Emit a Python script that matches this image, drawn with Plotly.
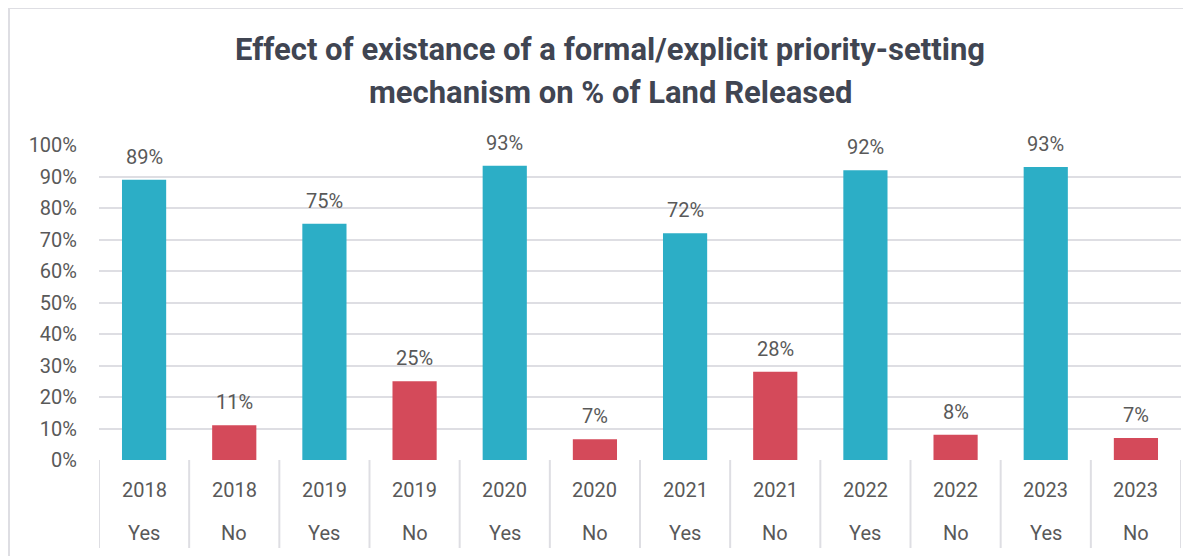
import plotly.graph_objects as go

years = ["2018", "2018", "2019", "2019", "2020", "2020", "2021", "2021", "2022", "2022", "2023", "2023"]
mechanism = ["Yes", "No", "Yes", "No", "Yes", "No", "Yes", "No", "Yes", "No", "Yes", "No"]
land_released = [0.89, 0.11, 0.75, 0.25, 0.934, 0.066, 0.72, 0.28, 0.92, 0.08, 0.93, 0.07]

colors = {"Yes": "#2CAEC6", "No": "#D44A5A"}
grid_col = "#DEDEE3"
text_col = "#595959"
font_fam = "Roboto, Arial, sans-serif"

cats = [y + " " + m for y, m in zip(years, mechanism)]

# plot area in page pixels: x 99..1181, y 145..460  (page has an 8px body offset)
plot_w = 1082
plot_h = 315

fig = go.Figure()
fig.add_trace(
    go.Bar(
        x=cats,
        y=land_released,
        marker_color=[colors[m] for m in mechanism],
        marker_line_width=0,
        hoverinfo="x+y",
    )
)

annotations = []
# data labels
for c, v in zip(cats, land_released):
    annotations.append(dict(
        x=c, y=v, xref="x", yref="y", text=f"{round(v * 100)}%",
        showarrow=False, yanchor="middle", yshift=23,
        font=dict(size=20, color=text_col, family=font_fam),
    ))
# two rows of category labels
for c, y, m in zip(cats, years, mechanism):
    annotations.append(dict(
        x=c, y=0, xref="x", yref="paper", text=y, showarrow=False,
        yanchor="middle", yshift=-30,
        font=dict(size=20, color=text_col, family=font_fam),
    ))
    annotations.append(dict(
        x=c, y=0, xref="x", yref="paper", text=m, showarrow=False,
        yanchor="middle", yshift=-73,
        font=dict(size=20, color=text_col, family=font_fam),
    ))
# title, two lines
title_x = (610 - 99) / plot_w
annotations.append(dict(
    x=title_x, y=1 + 95 / plot_h, xref="paper", yref="paper", showarrow=False,
    text="<b>Effect of existance of a formal/explicit priority-setting</b>",
    xanchor="center", yanchor="middle",
    font=dict(size=31, color="#404552", family=font_fam),
))
annotations.append(dict(
    x=title_x, y=1 + 52 / plot_h, xref="paper", yref="paper", showarrow=False,
    text="<b>mechanism on % of Land Released</b>",
    xanchor="center", yanchor="middle",
    font=dict(size=31, color="#404552", family=font_fam),
))

# category separators below the axis
shapes = []
for i in range(len(cats) + 1):
    shapes.append(dict(
        type="line", xref="x", yref="paper",
        x0=i - 0.5, x1=i - 0.5, y0=0, y1=-88 / plot_h,
        line=dict(color=grid_col, width=2),
    ))
# chart area border (left and top)
shapes.append(dict(type="line", xref="paper", yref="paper",
                   x0=-90 / plot_w, x1=-90 / plot_w, y0=-2, y1=1 + 137 / plot_h,
                   line=dict(color=grid_col, width=2)))
shapes.append(dict(type="line", xref="paper", yref="paper",
                   x0=-90 / plot_w, x1=2, y0=1 + 137 / plot_h, y1=1 + 137 / plot_h,
                   line=dict(color=grid_col, width=2)))

fig.update_layout(
    width=1191,
    height=556,
    margin=dict(l=91, r=18, t=137, b=104),
    paper_bgcolor="white",
    plot_bgcolor="white",
    showlegend=False,
    bargap=0.51,
    annotations=annotations,
    shapes=shapes,
    xaxis=dict(
        type="category",
        categoryorder="array",
        categoryarray=cats,
        range=[-0.5, len(cats) - 0.5],
        showticklabels=False,
        showgrid=False,
        zeroline=False,
        showline=False,
        ticks="",
    ),
    yaxis=dict(
        range=[0, 1.0],
        dtick=0.1,
        tickformat=".0%",
        showgrid=True,
        gridcolor=grid_col,
        gridwidth=2,
        zeroline=False,
        showline=False,
        ticks="",
        ticklabelstandoff=21,
        tickfont=dict(size=20, color=text_col, family=font_fam),
    ),
)

fig.write_html("out.html")
